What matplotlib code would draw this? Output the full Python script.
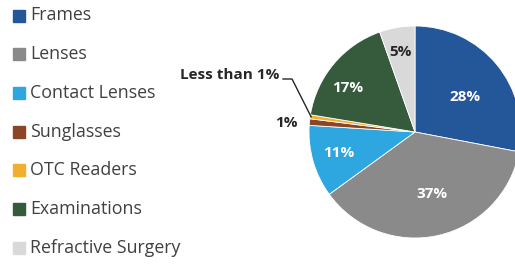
import matplotlib
matplotlib.use("Agg")
import matplotlib.pyplot as plt
from matplotlib.patches import Rectangle
import numpy as np

categories = ["Frames", "Lenses", "Contact Lenses", "Sunglasses", "OTC Readers",
              "Examinations", "Refractive Surgery"]
values = [28, 37, 11, 1, 0.6, 17, 5.4]
value_labels = ["28%", "37%", "11%", "1%", "Less than 1%", "17%", "5%"]
colors = ["#24579a", "#8a8a8a", "#2ea7e0", "#8b4527", "#f2ae2e", "#355b3c", "#d9d9d9"]

W, H = 515, 267
fig = plt.figure(figsize=(W / 100, H / 100), dpi=100)
ax = fig.add_axes([0, 0, 1, 1])
cx, cy, R = 415, 132, 106  # pixel centre / radius

wedges, _ = ax.pie(values, colors=colors, startangle=90, counterclock=False,
                   radius=1, center=(0, 0),
                   wedgeprops=dict(linewidth=0.6, edgecolor="white"))
ax.set_aspect("auto")
ax.set_xlim(-cx / R, (W - cx) / R)
ax.set_ylim(-(H - cy) / R, cy / R)
ax.axis("off")

font = "Open Sans"
# inner labels: (distance, angle offset, colour)
inner = {0: (0.58, -4.6, "white"), 1: (0.61, 2.7, "white"), 2: (0.75, -1, "white"),
         5: (0.76, 7, "white"), 6: (0.77, 0.8, "#262626")}
for i, (d, off, c) in inner.items():
    w = wedges[i]
    ang = np.deg2rad((w.theta1 + w.theta2) / 2 + off)
    ax.text(d * np.cos(ang), d * np.sin(ang), value_labels[i], color=c,
            ha="center", va="center", fontsize=11, fontweight="bold", family=font)

# outside labels
w = wedges[3]
ax.text(-1.11, 0.085, value_labels[3], ha="right", va="center", fontsize=11,
        fontweight="bold", family=font, color="#262626")
w = wedges[4]
ang = np.deg2rad((w.theta1 + w.theta2) / 2)
ex, ey = 0.99 * np.cos(ang), 0.99 * np.sin(ang)
ax.plot([-1.245, -1.16, ex], [0.5, 0.5, ey], color="#262626", lw=1)
ax.text(-1.28, 0.54, value_labels[4], ha="right", va="center", fontsize=11,
        fontweight="bold", family=font, color="#262626")

# legend
for i, (cat, col) in enumerate(zip(categories, colors)):
    yc = 15.5 + i * 38.7
    fig.patches.append(Rectangle((13 / W, 1 - (yc + 6) / H), 12 / W, 12 / H,
                                 transform=fig.transFigure, color=col))
    fig.text(30 / W, 1 - yc / H, cat, ha="left", va="center", fontsize=12.8,
             family=font, color="#404040")

fig.savefig("out.png", dpi=100)
